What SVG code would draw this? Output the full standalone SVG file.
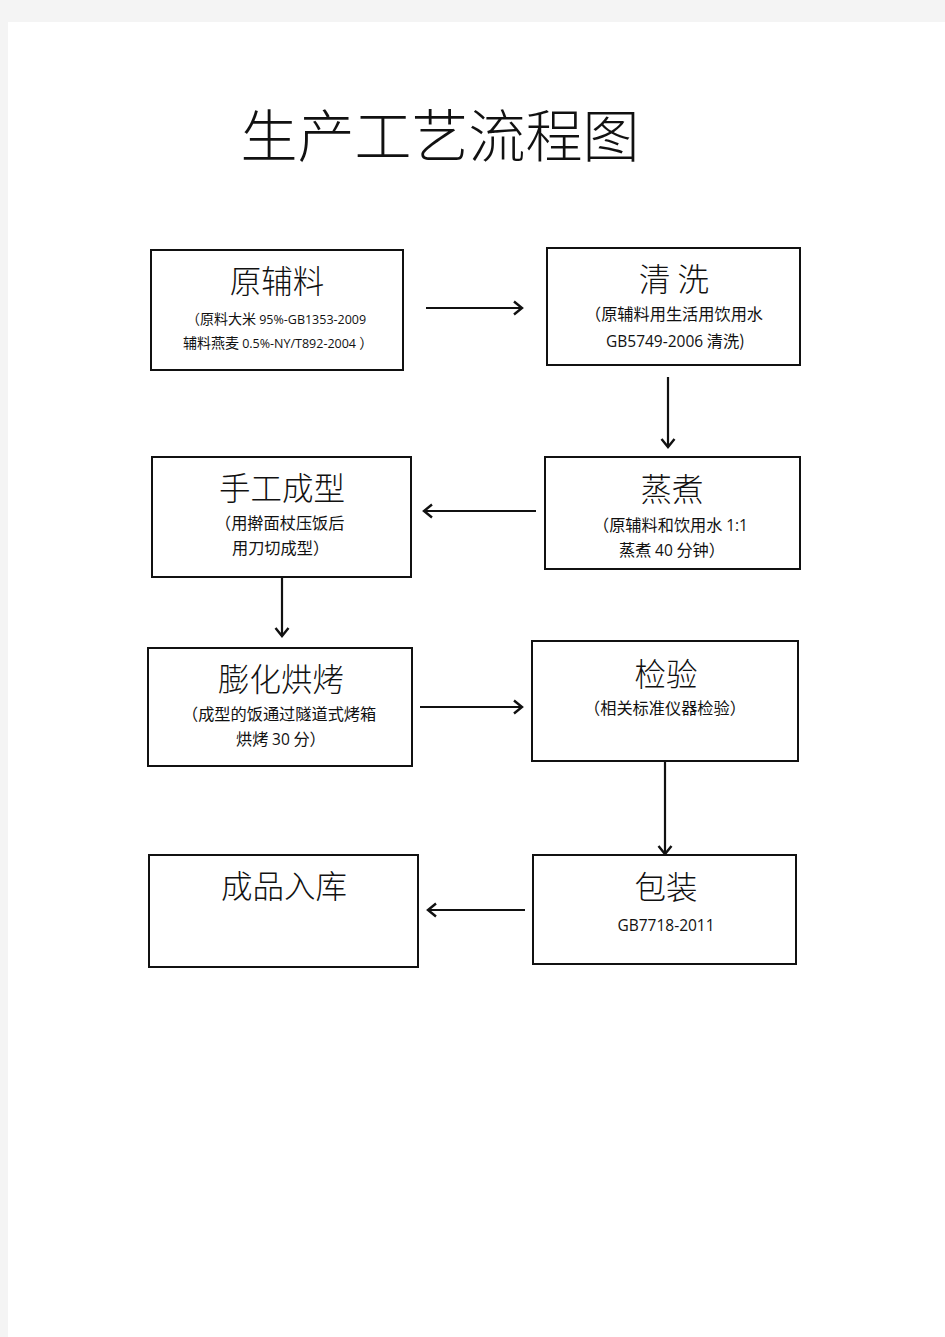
<svg xmlns="http://www.w3.org/2000/svg" width="945" height="1337" viewBox="0 0 945 1337">
<defs>
<style>
.box{fill:#fff;stroke:#111;stroke-width:2}
.h{font-family:"Noto Sans CJK SC","Noto Sans",sans-serif;font-size:31.5px;fill:#111;text-anchor:middle;font-weight:300}
.s{font-family:"Noto Sans CJK SC","Open Sans",sans-serif;font-size:16.2px;fill:#111}
.s1{font-size:14px}
.n{font-family:"Open Sans","Noto Sans CJK SC",sans-serif;font-size:12.5px}
.n2{font-family:"Open Sans","Noto Sans CJK SC",sans-serif;font-size:15.5px}
.c{text-anchor:middle}
.ln{stroke:#111;stroke-width:2.2;fill:none}
</style>
<marker id="ah" markerUnits="userSpaceOnUse" markerWidth="14" markerHeight="16" refX="11" refY="8" orient="auto">
<path d="M3,1.5 L11,8 L3,14.5" fill="none" stroke="#111" stroke-width="2.4"/>
</marker>
</defs>
<rect width="945" height="1337" fill="#f4f4f4"/>
<rect x="8" y="22" width="937" height="1315" fill="#fff"/>
<text x="440" y="157" font-family="Noto Sans CJK SC,sans-serif" font-size="57" font-weight="300" text-anchor="middle" fill="#111">生产工艺流程图</text>

<g id="node-yuanfuliao">
<rect class="box" x="151" y="250" width="252" height="120"/>
<text class="h" x="277" y="293">原辅料</text>
<text class="s s1" x="186" y="324">（原料大米 <tspan class="n">95%-GB1353-2009</tspan></text>
<text class="s s1" x="183" y="348">辅料燕麦  <tspan class="n">0.5%-NY/T892-2004</tspan>  ）</text>
</g>

<g id="node-qingxi">
<rect class="box" x="547" y="248" width="253" height="117"/>
<text class="h" x="674" y="291">清 洗</text>
<text class="s" x="585" y="320">（原辅料用生活用饮用水</text>
<text class="s" x="606" y="347"><tspan class="n2">GB5749-2006</tspan> 清洗)</text>
</g>

<g id="node-shougong">
<rect class="box" x="152" y="457" width="259" height="120"/>
<text class="h" x="282" y="500">手工成型</text>
<text class="s" x="215" y="529">（用擀面杖压饭后</text>
<text class="s" x="232" y="554">用刀切成型）</text>
</g>

<g id="node-zhengzhu">
<rect class="box" x="545" y="457" width="255" height="112"/>
<text class="h" x="672" y="501">蒸煮</text>
<text class="s" x="593" y="531">（原辅料和饮用水 <tspan class="n2">1:1</tspan></text>
<text class="s" x="619" y="556">蒸煮 <tspan class="n2">40</tspan> 分钟）</text>
</g>

<g id="node-penghua">
<rect class="box" x="148" y="648" width="264" height="118"/>
<text class="h" x="281" y="691">膨化烘烤</text>
<text class="s" x="182" y="720">（成型的饭通过隧道式烤箱</text>
<text class="s" x="236" y="745">烘烤 <tspan class="n2">30</tspan> 分）</text>
</g>

<g id="node-jianyan">
<rect class="box" x="532" y="641" width="266" height="120"/>
<text class="h" x="666" y="686">检验</text>
<text class="s c" x="665" y="714">（相关标准仪器检验）</text>
</g>

<g id="node-baozhuang">
<rect class="box" x="533" y="855" width="263" height="109"/>
<text class="h" x="666" y="899">包装</text>
<text class="s c n2" x="666" y="931">GB7718-2011</text>
</g>

<g id="node-chengpin">
<rect class="box" x="149" y="855" width="269" height="112"/>
<text class="h" x="284" y="898">成品入库</text>
</g>

<g id="connectors">
<line class="ln" x1="426" y1="308" x2="522" y2="308" marker-end="url(#ah)"/>
<line class="ln" x1="668" y1="377" x2="668" y2="447" marker-end="url(#ah)"/>
<line class="ln" x1="536" y1="511" x2="424" y2="511" marker-end="url(#ah)"/>
<line class="ln" x1="282" y1="578" x2="282" y2="636" marker-end="url(#ah)"/>
<line class="ln" x1="420" y1="707" x2="522" y2="707" marker-end="url(#ah)"/>
<line class="ln" x1="665" y1="762" x2="665" y2="854" marker-end="url(#ah)"/>
<line class="ln" x1="525" y1="910" x2="428" y2="910" marker-end="url(#ah)"/>
</g>
</svg>
